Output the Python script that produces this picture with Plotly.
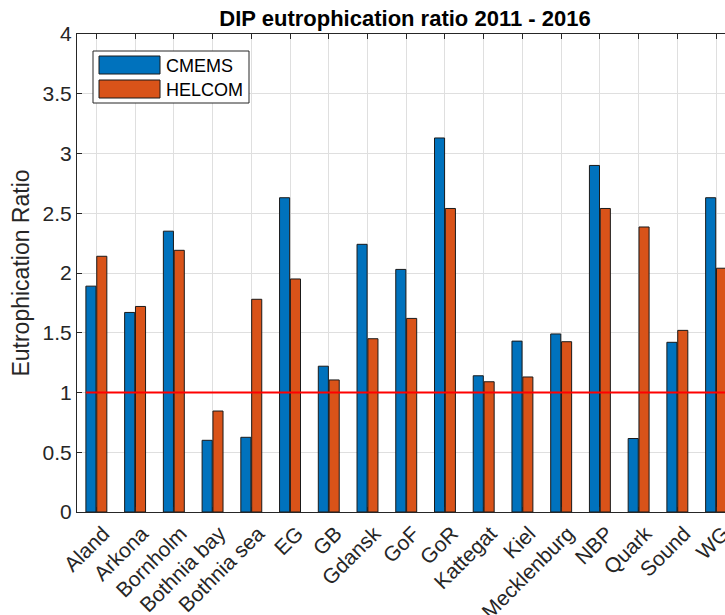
import plotly.graph_objects as go

categories = ["Aland", "Arkona", "Bornholm", "Bothnia bay", "Bothnia sea", "EG", "GB",
              "Gdansk", "GoF", "GoR", "Kattegat", "Kiel", "Mecklenburg", "NBP", "Quark",
              "Sound", "WG"]
cmems = [1.89, 1.67, 2.35, 0.60, 0.625, 2.63, 1.22, 2.24, 2.03, 3.13, 1.14, 1.43,
         1.49, 2.90, 0.615, 1.42, 2.63]
helcom = [2.14, 1.72, 2.19, 0.845, 1.78, 1.95, 1.105, 1.45, 1.62, 2.54, 1.09, 1.13,
          1.425, 2.54, 2.385, 1.52, 2.04]
threshold = 1.0
y_ticks = [0, 0.5, 1, 1.5, 2, 2.5, 3, 3.5, 4]

W, H = 725, 615
L, T, B = 77, 34, 103
PW, PH = W - L, H - T - B

def px(x):
    return (x - L) / PW

def py(y):
    return (H - B - y) / PH

xpos = list(range(1, len(categories) + 1))
FONT = "Liberation Sans, Arial, Helvetica, sans-serif"
AX = "#262626"
BLUE = "#0072BD"
ORANGE = "#D95319"

fig = go.Figure()
fig.add_trace(go.Bar(x=xpos, y=cmems, name="CMEMS", marker=dict(color=BLUE, line=dict(color="#1a1a1a", width=1))))
fig.add_trace(go.Bar(x=xpos, y=helcom, name="HELCOM", marker=dict(color=ORANGE, line=dict(color="#1a1a1a", width=1))))

shapes = []
shapes.append(dict(type="line", xref="paper", yref="y", x0=px(86), x1=1, y0=threshold, y1=threshold,
                   line=dict(color="#ff0000", width=2), layer="above"))
shapes.append(dict(type="rect", xref="paper", yref="paper", x0=px(93), x1=px(249), y0=py(103), y1=py(51),
                   line=dict(color=AX, width=1), fillcolor="white", layer="above"))
shapes.append(dict(type="rect", xref="paper", yref="paper", x0=px(99), x1=px(160), y0=py(74), y1=py(56),
                   line=dict(color="#1a1a1a", width=1), fillcolor=BLUE, layer="above"))
shapes.append(dict(type="rect", xref="paper", yref="paper", x0=px(99), x1=px(160), y0=py(98), y1=py(80),
                   line=dict(color="#1a1a1a", width=1), fillcolor=ORANGE, layer="above"))

annotations = [
    dict(text="CMEMS", xref="paper", yref="paper", x=px(164), y=py(66), xanchor="left", yanchor="middle",
         showarrow=False, font=dict(family=FONT, size=18, color="#000")),
    dict(text="HELCOM", xref="paper", yref="paper", x=px(164), y=py(90), xanchor="left", yanchor="middle",
         showarrow=False, font=dict(family=FONT, size=18, color="#000")),
]

fig.update_layout(
    width=W, height=H,
    margin=dict(l=L, r=0, t=T, b=B, pad=0, autoexpand=False),
    paper_bgcolor="white", plot_bgcolor="white",
    barmode="group", bargap=0.44, bargroupgap=0.07,
    showlegend=False,
    title=dict(text="<b>DIP eutrophication ratio 2011 - 2016</b>", x=405 / W, xref="container",
               xanchor="center", y=1 - 18 / H, yanchor="middle",
               font=dict(family=FONT, size=22, color="#000")),
    font=dict(family=FONT, size=21, color=AX),
    shapes=shapes,
    annotations=annotations,
    xaxis=dict(range=[0.5, 17.23], tickvals=xpos, ticktext=categories, tickangle=-45,
               automargin=False,
               showgrid=True, gridcolor="#dfdfdf", gridwidth=1,
               showline=True, linecolor=AX, linewidth=1, mirror="ticks",
               ticks="inside", ticklen=5, tickcolor=AX, zeroline=False,
               ticklabeloverflow="allow", ticklabelshift=7, ticklabelstandoff=0,
               tickfont=dict(family=FONT, size=21, color=AX)),
    yaxis=dict(range=[0, 4], tickvals=y_ticks, ticktext=[f"{v:g}" for v in y_ticks],
               automargin=False,
               showgrid=True, gridcolor="#dfdfdf", gridwidth=1,
               showline=True, linecolor=AX, linewidth=1, mirror=False,
               ticks="inside", ticklen=5, tickcolor=AX, zeroline=False,
               tickfont=dict(family=FONT, size=21, color=AX),
               title=dict(text="Eutrophication Ratio", font=dict(family=FONT, size=23, color=AX), standoff=6)),
)

fig.write_html("out.html", post_script="document.body.style.margin='0';",
               config={"displayModeBar": False})
